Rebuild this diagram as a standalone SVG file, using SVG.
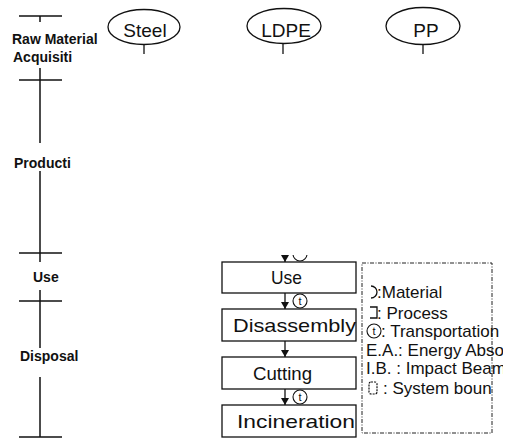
<svg xmlns="http://www.w3.org/2000/svg" width="505" height="440" viewBox="0 0 505 440">
<style>
.ax{stroke:#111;stroke-width:1.5;fill:none}
.lbl{font-family:"Liberation Sans",Arial,sans-serif;font-weight:bold;font-size:14px;fill:#111}
.mat{fill:#fff;stroke:#111;stroke-width:1.3}
.mt{font-family:"Liberation Sans",Arial,sans-serif;font-size:19px;fill:#111;text-anchor:middle}
.box{fill:none;stroke:#111;stroke-width:1.3}
.bt{font-family:"Liberation Sans",Arial,sans-serif;font-size:19px;fill:#111}
.con{stroke:#111;stroke-width:1.3;fill:none}
.tc{fill:#fff;stroke:#111;stroke-width:1.1}
.tt{font-family:"Liberation Sans",Arial,sans-serif;font-size:11px;fill:#111;text-anchor:middle}
.lg{font-family:"Liberation Sans",Arial,sans-serif;font-size:17px;fill:#111}
.dash{fill:none;stroke:#222;stroke-width:1;stroke-dasharray:4 1.5 1 1.5}
</style>
<defs>
<marker id="ah" markerWidth="8" markerHeight="8" refX="7" refY="4" orient="auto" markerUnits="userSpaceOnUse">
<path d="M0,0 L7,4 L0,8 Z" fill="#111"/>
</marker>
<clipPath id="topclip"><rect x="270" y="255" width="50" height="8"/></clipPath>
<clipPath id="lgclip"><rect x="355" y="255" width="148" height="185"/></clipPath>
</defs>

<g id="axis">
<line class="ax" x1="19" y1="16" x2="62" y2="16"/>
<line class="ax" x1="40" y1="16" x2="40" y2="22"/>
<line class="ax" x1="19" y1="80" x2="62" y2="80"/>
<line class="ax" x1="40" y1="68" x2="40" y2="143"/>
<line class="ax" x1="40" y1="171" x2="40" y2="262"/>
<line class="ax" x1="19" y1="253" x2="62" y2="253"/>
<line class="ax" x1="19" y1="301" x2="62" y2="301"/>
<line class="ax" x1="40" y1="290" x2="40" y2="348"/>
<line class="ax" x1="40" y1="377" x2="40" y2="437"/>
<line class="ax" x1="19" y1="437" x2="62" y2="437"/>
<text class="lbl" x="12" y="44">Raw Material</text>
<text class="lbl" x="13" y="62">Acquisiti</text>
<text class="lbl" x="14" y="168">Producti</text>
<text class="lbl" x="33" y="282">Use</text>
<text class="lbl" x="20" y="361">Disposal</text>
</g>

<g id="steel">
<ellipse class="mat" cx="144" cy="27" rx="36" ry="17.5"/>
<text class="mt" x="145" y="37">Steel</text>
</g>
<g id="ldpe">
<ellipse class="mat" cx="284" cy="26" rx="37" ry="17.5"/>
<text class="mt" x="286" y="37">LDPE</text>
</g>
<g id="pp">
<ellipse class="mat" cx="423" cy="26" rx="37" ry="18.5"/>
<text class="mt" x="426" y="37">PP</text>
</g>

<g id="use">
<rect class="box" x="222" y="262" width="134" height="31"/>
<text class="bt" x="271" y="284" textLength="31" lengthAdjust="spacingAndGlyphs">Use</text>
</g>
<g id="disassembly">
<rect class="box" x="222" y="309" width="134" height="32"/>
<text class="bt" x="233" y="332" textLength="123" lengthAdjust="spacingAndGlyphs">Disassembly</text>
</g>
<g id="cutting">
<rect class="box" x="222" y="357" width="134" height="32"/>
<text class="bt" x="253" y="380" textLength="59" lengthAdjust="spacingAndGlyphs">Cutting</text>
</g>
<g id="incineration">
<rect class="box" x="222" y="405" width="134" height="32"/>
<text class="bt" x="237" y="428" textLength="118" lengthAdjust="spacingAndGlyphs">Incineration</text>
</g>

<g id="connectors">
<line class="con" x1="144" y1="45" x2="144" y2="54"/>
<line class="con" x1="283" y1="44" x2="283" y2="54"/>
<line class="con" x1="423" y1="45" x2="423" y2="54"/>
<g clip-path="url(#topclip)">
<line class="con" x1="285" y1="240" x2="285" y2="262" marker-end="url(#ah)"/>
<circle class="tc" cx="300" cy="254" r="7"/>
</g>
<line class="con" x1="285" y1="293" x2="285" y2="309" marker-end="url(#ah)"/>
<circle class="tc" cx="300" cy="301" r="7"/>
<text class="tt" x="300" y="305">t</text>
<line class="con" x1="285" y1="341" x2="285" y2="357" marker-end="url(#ah)"/>
<line class="con" x1="285" y1="389" x2="285" y2="405" marker-end="url(#ah)"/>
<circle class="tc" cx="300" cy="397" r="7"/>
<text class="tt" x="300" y="401">t</text>
</g>

<g id="legend">
<rect class="dash" x="362" y="263" width="130" height="170"/>
<g clip-path="url(#lgclip)">
<path d="M371,286 A6,6 0 0 1 371,298" class="con"/>
<text class="lg" x="377" y="298">:Material</text>
<path d="M370,307 H377 V318 H370" class="con"/>
<text class="lg" x="377" y="319">: Process</text>
<circle class="tc" cx="374" cy="331" r="7"/>
<text class="tt" x="374" y="335">t</text>
<text class="lg" x="381" y="337">: Transportation</text>
<text class="lg" x="366" y="356">E.A.: Energy Abso</text>
<text class="lg" x="366" y="374">I.B. : Impact Beam</text>
<rect x="369" y="382" width="8" height="12" rx="2" style="fill:none;stroke:#111;stroke-width:1.2;stroke-dasharray:2 1"/>
<text class="lg" x="383" y="394">: System boun</text>
</g>
</g>
</svg>
